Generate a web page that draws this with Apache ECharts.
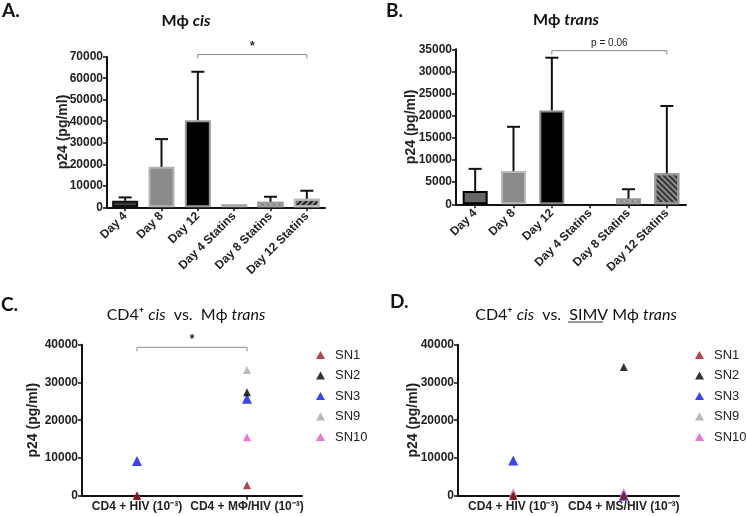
<!DOCTYPE html>
<html>
<head>
<meta charset="utf-8">
<script src="https://cdn.jsdelivr.net/npm/echarts@6/dist/echarts.min.js"></script>
<style>
  html, body { margin: 0; padding: 0; background: #fff; }
  #chart { width: 746px; height: 516px; }
</style>
</head>
<body>
<div id="chart"></div>
<script>
  // panel A / B : bars (mean) + upper error (mean + SD)
  var dayCats = ['Day 4', 'Day 8', 'Day 12', 'Day 4 Statins', 'Day 8 Statins', 'Day 12 Statins'];
  var cisMean = [3000, 18800, 40500, 1500, 2600, 4000];
  var cisErrTop = [4600, 31700, 63000, 1500, 4900, 7700];
  var transMean = [3000, 7500, 21200, 0, 1300, 7000];
  var transErrTop = [8000, 17500, 33100, 0, 3400, 22200];

  // panel C / D : one value per group for each donor
  var cCats = ['CD4 + HIV (10⁻³)', 'CD4 + MΦ/HIV (10⁻³)'];
  var dCats = ['CD4 + HIV (10⁻³)', 'CD4 + MS/HIV (10⁻³)'];
  var donors = ['SN1', 'SN2', 'SN3', 'SN9', 'SN10'];
  var cVals = {
    SN1: [0, 2750],
    SN2: [0, 27400],
    SN3: [9200, 25700],
    SN9: [0, 33300],
    SN10: [0, 15500]
  };
  var dVals = {
    SN1: [0, 0],
    SN2: [0, 34100],
    SN3: [9300, 0],
    SN9: [600, 500],
    SN10: [900, 900]
  };

  var donorColor = { SN1: '#a3141c', SN2: '#000000', SN3: '#0a14f0', SN9: '#a8a8a8', SN10: '#f050c8' };
  var donorSize = { SN1: 8, SN2: 8, SN3: 10, SN9: 8, SN10: 8 };

  var tickFont = { fontFamily: 'Arial, Liberation Sans', fontWeight: 'bold', fontSize: 12, color: '#222' };
  var nameFont = { fontFamily: 'Arial, Liberation Sans', fontWeight: 'bold', fontSize: 14, color: '#222' };

  function hatch(rot, col) {
    return { symbol: 'rect', symbolSize: 1, dashArrayX: [[1, 0]], dashArrayY: [2, 2], rotation: rot, color: col };
  }

  var cisStyles = [
    { color: '#3c3c3c', borderColor: '#111', borderWidth: 2 },
    { color: '#8a8a8a', borderColor: '#b4b4b4', borderWidth: 2 },
    { color: '#000', borderColor: '#9a9a9a', borderWidth: 2 },
    { color: '#8a8a8a', borderColor: '#aaa', borderWidth: 2 },
    { color: '#777', borderColor: '#9a9a9a', borderWidth: 2, decal: hatch(Math.PI / 4, 'rgba(190,190,190,0.8)') },
    { color: '#222', borderColor: '#bbb', borderWidth: 2, decal: hatch(-Math.PI / 4, 'rgba(150,150,150,0.9)') }
  ];
  var transStyles = [
    { color: '#666', borderColor: '#000', borderWidth: 2 },
    { color: '#8a8a8a', borderColor: '#bbb', borderWidth: 2 },
    { color: '#000', borderColor: '#8a8a8a', borderWidth: 2 },
    { color: '#777', borderWidth: 0 },
    { color: '#777', borderColor: '#999', borderWidth: 2, decal: hatch(Math.PI / 4, 'rgba(190,190,190,0.8)') },
    { color: '#333', borderColor: '#999', borderWidth: 2, decal: hatch(Math.PI / 4, 'rgba(150,150,150,0.9)') }
  ];

  function errItem(params, api) {
    var x = api.value(0), m = api.value(1), t = api.value(2);
    var p0 = api.coord([x, m]);
    var p1 = api.coord([x, t]);
    return {
      type: 'group',
      children: [
        { type: 'line', shape: { x1: p0[0], y1: p0[1], x2: p1[0], y2: p1[1] }, style: { stroke: '#111', lineWidth: 2 } },
        { type: 'line', shape: { x1: p1[0] - 6.5, y1: p1[1], x2: p1[0] + 6.5, y2: p1[1] }, style: { stroke: '#111', lineWidth: 2 } }
      ]
    };
  }

  var bracketLabel = {
    brA: { t: '*', f: 'bold 12px Arial' },
    brB: { t: 'p = 0.06', f: '10px Arial' },
    brC: { t: '*', f: 'bold 12px Arial' }
  };
  function bracketItem(params, api) {
    var a = api.coord([api.value(0), api.value(2)]);
    var b = api.coord([api.value(1), api.value(2)]);
    var txt = bracketLabel[params.seriesId];
    return {
      type: 'group',
      children: [
        { type: 'polyline', shape: { points: [[a[0], a[1] + 4], [a[0], a[1]], [b[0], b[1]], [b[0], b[1] + 4]] },
          style: { stroke: '#8a8a8a', lineWidth: 1, fill: null } },
        { type: 'text', style: { text: txt.t, x: (a[0] + b[0]) / 2, y: a[1] - 2, align: 'center', verticalAlign: 'bottom',
          font: txt.f, fill: '#222' } }
      ]
    };
  }

  function errData(mean, top) {
    var out = [];
    for (var i = 0; i < mean.length; i++) {
      if (top[i] > mean[i]) out.push([i, mean[i], top[i]]);
    }
    return out;
  }

  function catAxis(idx, cats, rotate) {
    return {
      type: 'category', gridIndex: idx, data: cats,
      axisLine: { lineStyle: { color: '#111', width: 2 } },
      axisTick: { show: true, alignWithLabel: true, length: 4, lineStyle: { color: '#111', width: 1.5 } },
      axisLabel: Object.assign({ interval: 0, rotate: rotate, margin: rotate ? 7 : 5 }, tickFont),
      splitLine: { show: false }
    };
  }
  function valAxis(idx, max, step, gap) {
    return {
      type: 'value', gridIndex: idx, min: 0, max: max, interval: step,
      name: 'p24 (pg/ml)', nameLocation: 'middle', nameRotate: 90, nameGap: gap, nameTextStyle: nameFont,
      nameMoveOverlap: false,
      axisLine: { show: true, lineStyle: { color: '#111', width: 2 } },
      axisTick: { show: true, length: 4, lineStyle: { color: '#111', width: 1.5 } },
      axisLabel: Object.assign({ margin: 4, formatter: function (v) { return String(v); } }, tickFont),
      splitLine: { show: false }
    };
  }

  var series = [
    { type: 'bar', xAxisIndex: 0, yAxisIndex: 0, barWidth: 26,
      data: cisMean.map(function (v, i) { return { value: v, itemStyle: cisStyles[i] }; }) },
    { type: 'custom', xAxisIndex: 0, yAxisIndex: 0, renderItem: errItem, encode: { x: 0, y: [1, 2] }, z: 5,
      data: errData(cisMean, cisErrTop) },
    { id: 'brA', type: 'custom', xAxisIndex: 0, yAxisIndex: 0, renderItem: bracketItem, clip: false,
      encode: { x: [0, 1], y: 2 }, data: [[2, 5, 71000]] },

    { type: 'bar', xAxisIndex: 1, yAxisIndex: 1, barWidth: 25,
      data: transMean.map(function (v, i) { return { value: v, itemStyle: transStyles[i] }; }) },
    { type: 'custom', xAxisIndex: 1, yAxisIndex: 1, renderItem: errItem, encode: { x: 0, y: [1, 2] }, z: 5,
      data: errData(transMean, transErrTop) },
    { id: 'brB', type: 'custom', xAxisIndex: 1, yAxisIndex: 1, renderItem: bracketItem, clip: false,
      encode: { x: [0, 1], y: 2 }, data: [[2, 5, 34700]] },

    { id: 'brC', type: 'custom', xAxisIndex: 2, yAxisIndex: 2, renderItem: bracketItem, clip: false,
      encode: { x: [0, 1], y: 2 }, data: [[0, 1, 39300]] }
  ];

  // draw SN1 last so it sits on top, as in the picture
  var drawOrder = ['SN10', 'SN9', 'SN3', 'SN2', 'SN1'];
  [[2, cVals], [3, dVals]].forEach(function (p) {
    drawOrder.forEach(function (n) {
      series.push({
        name: n, type: 'scatter', xAxisIndex: p[0], yAxisIndex: p[0],
        symbol: 'triangle', symbolSize: donorSize[n], clip: false,
        itemStyle: { color: donorColor[n] },
        data: p[1][n]
      });
    });
  });

  function legendAt(left) {
    return {
      data: donors, orient: 'vertical', left: left, top: 348, itemGap: 6.5, padding: 0,
      itemWidth: 9, itemHeight: 8, selectedMode: false,
      textStyle: { fontFamily: 'Arial, Liberation Sans', fontSize: 13, color: '#222', lineHeight: 14, padding: [0, 0, 0, 5] }
    };
  }

  var letterFont = 'bold 19px Lato, Open Sans';
  var option = {
    backgroundColor: '#fff',
    animation: false,
    grid: [
      { left: 107, top: 56.7, width: 218, height: 150.6, outerBoundsMode: 'none' },
      { left: 456, top: 49.3, width: 230, height: 155, outerBoundsMode: 'none' },
      { left: 82, top: 344.7, width: 220, height: 151, outerBoundsMode: 'none' },
      { left: 458, top: 344.7, width: 221, height: 151, outerBoundsMode: 'none' }
    ],
    xAxis: [catAxis(0, dayCats, 45), catAxis(1, dayCats, 45), catAxis(2, cCats, 0), catAxis(3, dCats, 0)],
    yAxis: [valAxis(0, 70000, 10000, 37), valAxis(1, 35000, 5000, 38), valAxis(2, 40000, 10000, 42), valAxis(3, 40000, 10000, 38)],
    legend: [legendAt(316), legendAt(695)],
    series: series,
    graphic: [
      { type: 'text', left: 2, top: 1, style: { text: 'A.', font: letterFont, fill: '#111' } },
      { type: 'text', left: 386, top: 1, style: { text: 'B.', font: letterFont, fill: '#111' } },
      { type: 'text', left: 1, top: 295, style: { text: 'C.', font: letterFont, fill: '#111' } },
      { type: 'text', left: 390, top: 292, style: { text: 'D.', font: letterFont, fill: '#111' } },
      { type: 'text', x: 186, y: 21, style: { text: 'Mϕ {i|cis}', align: 'center', verticalAlign: 'middle',
        font: 'bold 16px Lato, Open Sans', fill: '#111',
        rich: { i: { fontFamily: 'Lato, Open Sans', fontWeight: 'bold', fontStyle: 'italic', fontSize: 16, fill: '#111' } } } },
      { type: 'text', x: 566, y: 20, style: { text: 'Mϕ {i|trans}', align: 'center', verticalAlign: 'middle',
        font: 'bold 16px Lato, Open Sans', fill: '#111',
        rich: { i: { fontFamily: 'Lato, Open Sans', fontWeight: 'bold', fontStyle: 'italic', fontSize: 16, fill: '#111' } } } },
      { type: 'text', x: 186, y: 315, style: { text: 'CD4⁺ {i|cis}  vs.  Mϕ {i|trans}', align: 'center', verticalAlign: 'middle',
        font: '16px Lato, Open Sans', fill: '#111',
        rich: { i: { fontFamily: 'Lato, Open Sans', fontStyle: 'italic', fontSize: 16, fill: '#111' } } } },
      { type: 'text', x: 576, y: 315, style: { text: 'CD4⁺ {i|cis}  vs.  SIMV Mϕ {i|trans}', align: 'center', verticalAlign: 'middle',
        font: '16px Lato, Open Sans', fill: '#111',
        rich: { i: { fontFamily: 'Lato, Open Sans', fontStyle: 'italic', fontSize: 16, fill: '#111' } } } },
      // underline under "SIMV"
      { type: 'line', shape: { x1: 568, y1: 322, x2: 603, y2: 322 }, style: { stroke: '#333', lineWidth: 1.2 } }
    ]
  };

  var myChart = echarts.init(document.getElementById('chart'));
  myChart.setOption(option);
</script>
</body>
</html>
